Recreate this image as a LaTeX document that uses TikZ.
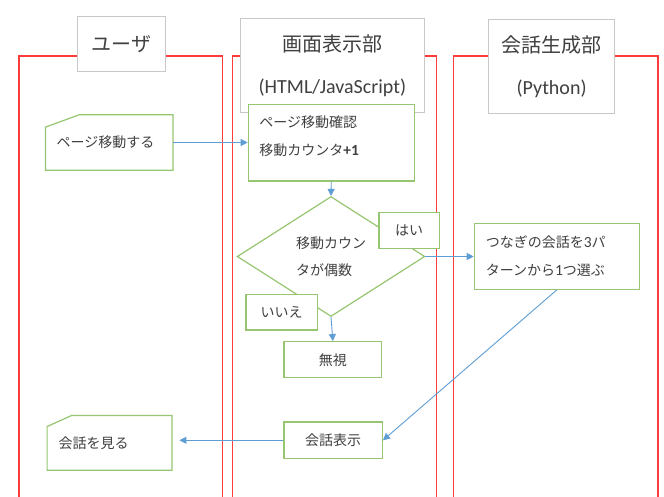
\documentclass[tikz,border=0pt]{standalone}
\usepackage{fontspec}
\setmainfont{Noto Sans CJK JP}
\newfontfamily\lat{Carlito}
\usetikzlibrary{shapes.geometric,arrows.meta,calc}
\definecolor{lane}{RGB}{255,60,60}
\definecolor{boxg}{RGB}{150,198,114}
\definecolor{arr}{RGB}{95,157,213}
\definecolor{ttl}{RGB}{200,200,200}
\definecolor{txt}{RGB}{64,64,64}
\newcommand{\lt}[1]{{\lat #1}}
\newcommand{\dg}[1]{{\lat\fontsize{15.5}{28}\selectfont #1}}
\begin{document}
\begin{tikzpicture}[x=1pt,y=-1pt,
  lanel/.style={draw=lane,line width=1.2pt},
  title/.style={draw=ttl,fill=white,line width=0.9pt,text=txt,inner sep=0pt,align=center,font=\fontsize{20}{42}\selectfont},
  proc/.style={draw=boxg,fill=white,line width=1.2pt,text=txt,inner sep=0pt,font=\fontsize{14}{28}\selectfont},
  card/.style={inner sep=0pt,text=txt,align=left,font=\fontsize{14}{28}\selectfont},
  cardline/.style={draw=boxg,line width=1.2pt,fill=white},
  flow/.style={draw=arr,line width=0.9pt,-{Triangle[width=7pt,length=7pt]}},
]
\useasboundingbox (0,0) rectangle (664,497);
\fill[white] (0,0) rectangle (664,497);

% lanes
\draw[lanel] (19,497) -- (19,56) -- (222.4,56) -- (222.4,497);
\draw[lanel] (232.7,497) -- (232.7,56) -- (436.7,56) -- (436.7,497);
\draw[lanel] (453.5,497) -- (453.5,56) -- (658,56) -- (658,497);

% titles
\node[title,minimum width=87.6pt,minimum height=55pt] (t1) at (121.2,44.4) {ユーザ};
\node[title,minimum width=184pt,minimum height=94.4pt] (t2) at (332.4,65.4) {画面表示部\\\lt{(HTML/JavaScript)}};
\node[title,minimum width=125.7pt,minimum height=94.8pt] (t3) at (551.6,66.4) {会話生成部\\\lt{(Python)}};

% user cards
\node[card,minimum width=127pt,minimum height=55pt,text width=105pt] (u1) at (109.2,142.5) {};
\draw[cardline] ($(u1.north west)+(0,12.3)$) -- ($(u1.north west)+(33.6,0)$) -- (u1.north east) -- (u1.south east) -- (u1.south west) -- cycle;
\node[card,text width=105pt] at (u1.center) {ページ移動する};

\node[card,minimum width=124.4pt,minimum height=54.3pt,text width=102pt] (u2) at (109.5,442.9) {};
\draw[cardline] ($(u2.north west)+(0,11)$) -- ($(u2.north west)+(24.4,0)$) -- (u2.north east) -- (u2.south east) -- (u2.south west) -- cycle;
\node[card,text width=102pt] at (u2.center) {会話を見る};

% screen lane
\node[proc,minimum width=166pt,minimum height=76.7pt,text width=144pt,align=left] (p1) at (331.3,142.7) {ページ移動確認\\移動カウンタ\dg{\textbf{+1}}\\[-14pt]\mbox{}};
\node[diamond,draw=boxg,fill=white,line width=1.2pt,text=txt,inner sep=0pt,minimum width=187.7pt,minimum height=120pt,aspect=1.564,align=left,font=\fontsize{14}{27}\selectfont] (d) at (331,256.5) {移動カウン\\タが偶数};
\node[proc,minimum width=60.3pt,minimum height=36pt] (yes) at (409.2,230.3) {はい};
\node[proc,minimum width=71.3pt,minimum height=35.7pt] (no) at (281.7,312.2) {いいえ};
\node[proc,minimum width=97.7pt,minimum height=36pt] (ig) at (332.9,359.7) {無視};
\node[proc,minimum width=98.3pt,minimum height=36.7pt] (show) at (333.2,440.3) {会話表示};

% generator lane
\node[proc,minimum width=165pt,minimum height=66pt,text width=142pt,align=left] (g) at (556.8,256.3) {つなぎの会話を\dg{3}パ\\ターンから\dg{1}つ選ぶ};

% connectors
\draw[flow] (u1.east) -- (p1.west |- u1.east);
\draw[flow] (p1.south) -- (d.north);
\draw[flow] (d.east) -- (g.west |- d.east);
\draw[flow] (d.south) -- (ig.north);
\draw[flow] (g.south) -- (show.east);
\draw[flow,shorten >=7.5pt] (show.west) -- (show.west -| u2.east);
\end{tikzpicture}
\end{document}
